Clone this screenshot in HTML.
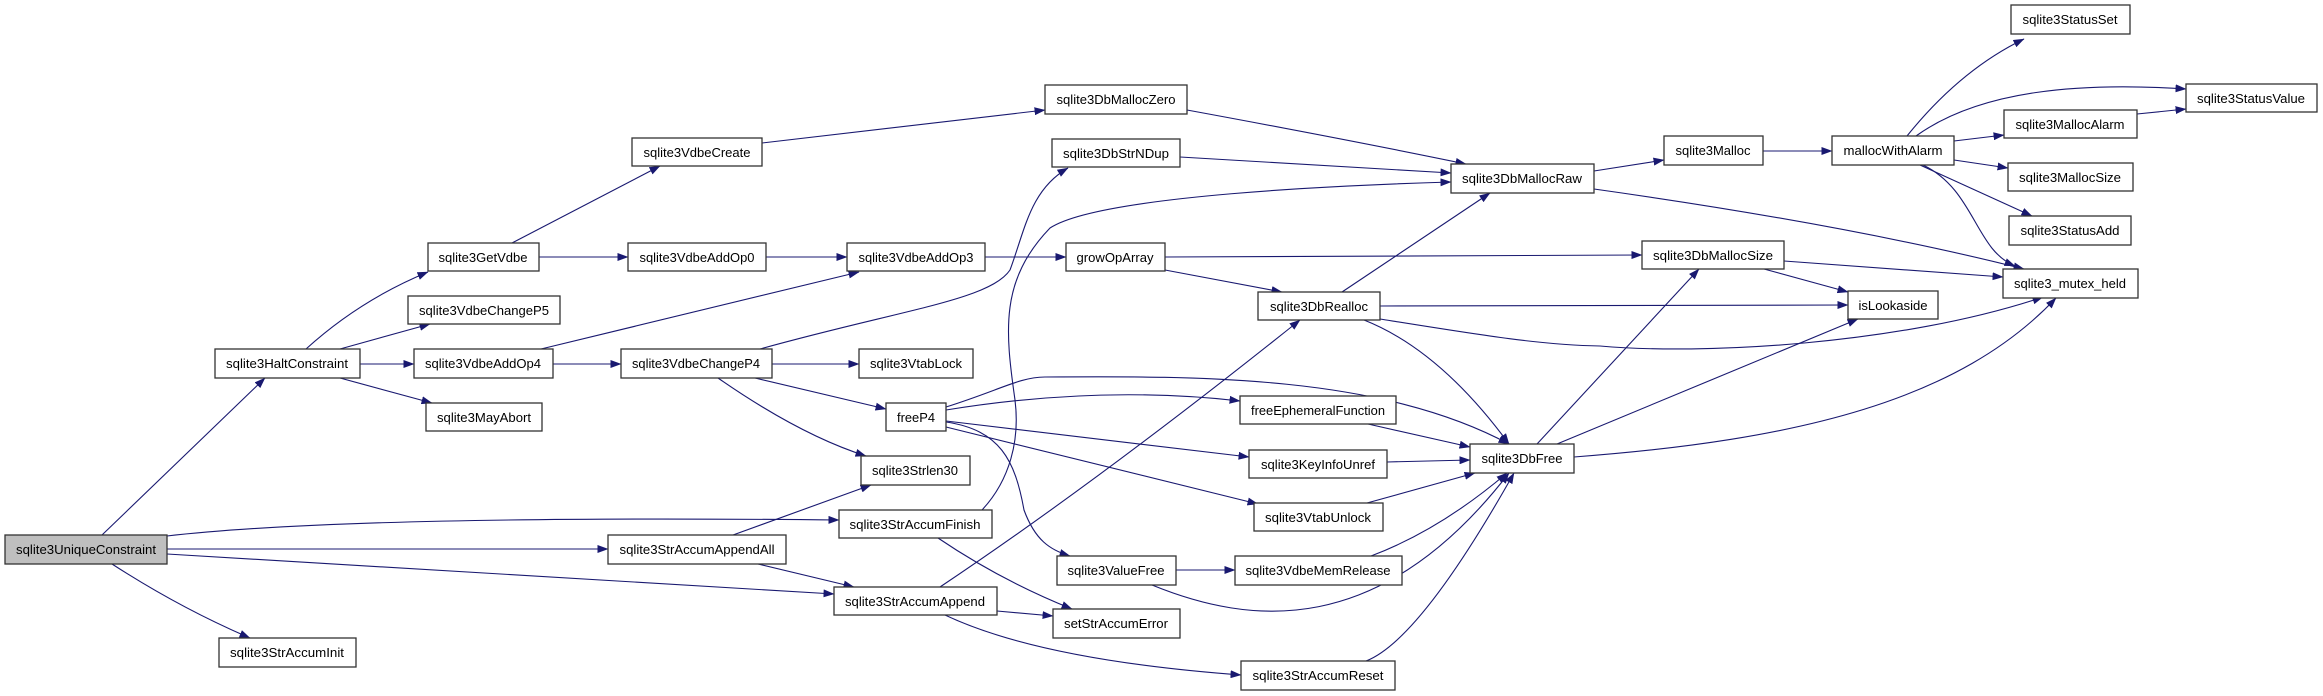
<!DOCTYPE html>
<html><head><meta charset="utf-8"><style>html,body{margin:0;padding:0;background:#fff}svg{display:block}</style></head>
<body>
<svg width="2323" height="696" viewBox="0 0 2323 696" xmlns="http://www.w3.org/2000/svg" font-family="Liberation Sans, sans-serif" font-size="13">
<defs><marker id="a" markerWidth="11" markerHeight="8" refX="10.5" refY="4" orient="auto" markerUnits="userSpaceOnUse"><path d="M0,0 L11,4 L0,8 z" fill="#191970"/></marker></defs>
<g fill="none" stroke="#191970" stroke-width="1.1" marker-end="url(#a)">
<path d="M102,535 L265,378"/>
<path d="M112,564 Q180,608 250,638"/>
<path d="M167,536 Q350,515 839,520"/>
<path d="M167,549 L608,549"/>
<path d="M167,554 L834,594"/>
<path d="M306,349 Q360,300 428,272"/>
<path d="M340,349 L430,324"/>
<path d="M360,364 L414,364"/>
<path d="M340,378 L432,403"/>
<path d="M512,243 L660,166"/>
<path d="M539,257 L628,257"/>
<path d="M541,349 L859,272"/>
<path d="M553,364 L621,364"/>
<path d="M762,143 L1045,110"/>
<path d="M766,257 L847,257"/>
<path d="M760,349 C900,310 990,300 1010,270 C1025,230 1030,190 1068,168"/>
<path d="M772,364 L859,364"/>
<path d="M755,378 L886,409"/>
<path d="M718,378 Q800,435 866,456"/>
<path d="M733,535 L871,485"/>
<path d="M758,564 L854,587"/>
<path d="M982,510 C1010,480 1020,440 1015,400 C1005,330 1000,280 1050,228 C1100,195 1350,185 1451,182"/>
<path d="M938,538 Q1000,580 1072,609"/>
<path d="M940,587 Q1100,480 1300,320"/>
<path d="M997,611 L1053,616"/>
<path d="M945,615 Q1040,660 1241,675"/>
<path d="M1187,110 Q1350,140 1466,164"/>
<path d="M1180,157 L1451,173"/>
<path d="M985,257 L1066,257"/>
<path d="M1165,257 L1642,255"/>
<path d="M1165,270 L1282,292"/>
<path d="M1342,292 L1490,193"/>
<path d="M1380,306 L1848,305"/>
<path d="M1380,319 C1480,335 1540,345 1600,346 C1700,355 1900,345 2043,297"/>
<path d="M1364,320 Q1440,350 1509,444"/>
<path d="M946,407 C1000,390 1020,377 1045,377 C1200,376 1380,375 1509,444"/>
<path d="M946,410 Q1100,385 1240,401"/>
<path d="M946,421 L1249,457"/>
<path d="M946,427 L1258,504"/>
<path d="M946,422 C1000,430 1015,460 1024,510 C1035,540 1050,550 1070,556"/>
<path d="M1368,424 L1470,447"/>
<path d="M1387,462 L1470,460"/>
<path d="M1367,503 L1475,473"/>
<path d="M1176,570 L1235,570"/>
<path d="M1152,585 C1250,625 1380,640 1509,473"/>
<path d="M1371,556 Q1440,530 1507,473"/>
<path d="M1366,661 Q1420,640 1514,473"/>
<path d="M1537,444 L1699,269"/>
<path d="M1557,444 L1858,319"/>
<path d="M1574,457 C1800,440 1960,400 2056,298"/>
<path d="M1594,171 L1664,160"/>
<path d="M1594,189 Q1850,225 2024,269"/>
<path d="M1764,269 L1848,292"/>
<path d="M1784,261 L2003,277"/>
<path d="M1763,151 L1832,151"/>
<path d="M1907,136 Q1960,70 2024,39"/>
<path d="M1916,136 C1980,90 2080,82 2186,89"/>
<path d="M1954,141 L2004,135"/>
<path d="M1954,160 L2008,168"/>
<path d="M1920,165 L2032,216"/>
<path d="M1923,165 C1975,190 1975,250 2015,266"/>
<path d="M2137,114 L2186,109"/>
</g>
<g stroke="#333" stroke-width="1.3" fill="#fff">
<rect x="5" y="535" width="162" height="29" fill="#bfbfbf"/>
<rect x="215" y="349" width="145" height="29"/>
<rect x="219" y="638" width="137" height="29"/>
<rect x="428" y="243" width="111" height="28"/>
<rect x="408" y="296" width="152" height="28"/>
<rect x="414" y="349" width="139" height="29"/>
<rect x="426" y="403" width="116" height="28"/>
<rect x="632" y="138" width="130" height="28"/>
<rect x="628" y="243" width="138" height="28"/>
<rect x="621" y="349" width="151" height="29"/>
<rect x="608" y="535" width="178" height="29"/>
<rect x="1045" y="85" width="142" height="29"/>
<rect x="1052" y="139" width="128" height="28"/>
<rect x="1451" y="164" width="143" height="29"/>
<rect x="847" y="243" width="138" height="28"/>
<rect x="1066" y="243" width="99" height="28"/>
<rect x="1258" y="292" width="122" height="28"/>
<rect x="859" y="349" width="114" height="29"/>
<rect x="886" y="403" width="60" height="28"/>
<rect x="1240" y="396" width="156" height="28"/>
<rect x="861" y="456" width="109" height="29"/>
<rect x="1249" y="450" width="138" height="28"/>
<rect x="1470" y="444" width="104" height="29"/>
<rect x="1254" y="503" width="129" height="28"/>
<rect x="839" y="510" width="153" height="28"/>
<rect x="1057" y="556" width="119" height="29"/>
<rect x="1235" y="556" width="167" height="29"/>
<rect x="834" y="587" width="163" height="28"/>
<rect x="1053" y="609" width="127" height="29"/>
<rect x="1241" y="661" width="154" height="29"/>
<rect x="2011" y="5" width="119" height="29"/>
<rect x="2186" y="84" width="131" height="28"/>
<rect x="2004" y="110" width="133" height="28"/>
<rect x="1664" y="136" width="99" height="29"/>
<rect x="1832" y="136" width="122" height="29"/>
<rect x="2008" y="163" width="125" height="28"/>
<rect x="2009" y="216" width="122" height="29"/>
<rect x="1642" y="241" width="142" height="28"/>
<rect x="2003" y="269" width="135" height="29"/>
<rect x="1848" y="291" width="90" height="28"/>
</g>
<g fill="#000" text-anchor="middle" lengthAdjust="spacingAndGlyphs">
<text x="86" y="554" textLength="140" lengthAdjust="spacingAndGlyphs">sqlite3UniqueConstraint</text>
<text x="287" y="368" textLength="122" lengthAdjust="spacingAndGlyphs">sqlite3HaltConstraint</text>
<text x="287" y="657" textLength="114" lengthAdjust="spacingAndGlyphs">sqlite3StrAccumInit</text>
<text x="483" y="262" textLength="89" lengthAdjust="spacingAndGlyphs">sqlite3GetVdbe</text>
<text x="484" y="315" textLength="130" lengthAdjust="spacingAndGlyphs">sqlite3VdbeChangeP5</text>
<text x="483" y="368" textLength="116" lengthAdjust="spacingAndGlyphs">sqlite3VdbeAddOp4</text>
<text x="484" y="422" textLength="94" lengthAdjust="spacingAndGlyphs">sqlite3MayAbort</text>
<text x="697" y="157" textLength="107" lengthAdjust="spacingAndGlyphs">sqlite3VdbeCreate</text>
<text x="697" y="262" textLength="115" lengthAdjust="spacingAndGlyphs">sqlite3VdbeAddOp0</text>
<text x="696" y="368" textLength="128" lengthAdjust="spacingAndGlyphs">sqlite3VdbeChangeP4</text>
<text x="697" y="554" textLength="155" lengthAdjust="spacingAndGlyphs">sqlite3StrAccumAppendAll</text>
<text x="1116" y="104" textLength="119" lengthAdjust="spacingAndGlyphs">sqlite3DbMallocZero</text>
<text x="1116" y="158" textLength="106" lengthAdjust="spacingAndGlyphs">sqlite3DbStrNDup</text>
<text x="1522" y="183" textLength="120" lengthAdjust="spacingAndGlyphs">sqlite3DbMallocRaw</text>
<text x="916" y="262" textLength="115" lengthAdjust="spacingAndGlyphs">sqlite3VdbeAddOp3</text>
<text x="1115" y="262" textLength="77" lengthAdjust="spacingAndGlyphs">growOpArray</text>
<text x="1319" y="311" textLength="98" lengthAdjust="spacingAndGlyphs">sqlite3DbRealloc</text>
<text x="916" y="368" textLength="92" lengthAdjust="spacingAndGlyphs">sqlite3VtabLock</text>
<text x="916" y="422" textLength="38" lengthAdjust="spacingAndGlyphs">freeP4</text>
<text x="1318" y="415" textLength="134" lengthAdjust="spacingAndGlyphs">freeEphemeralFunction</text>
<text x="915" y="475" textLength="86" lengthAdjust="spacingAndGlyphs">sqlite3Strlen30</text>
<text x="1318" y="469" textLength="114" lengthAdjust="spacingAndGlyphs">sqlite3KeyInfoUnref</text>
<text x="1522" y="463" textLength="81" lengthAdjust="spacingAndGlyphs">sqlite3DbFree</text>
<text x="1318" y="522" textLength="106" lengthAdjust="spacingAndGlyphs">sqlite3VtabUnlock</text>
<text x="915" y="529" textLength="131" lengthAdjust="spacingAndGlyphs">sqlite3StrAccumFinish</text>
<text x="1116" y="575" textLength="97" lengthAdjust="spacingAndGlyphs">sqlite3ValueFree</text>
<text x="1318" y="575" textLength="145" lengthAdjust="spacingAndGlyphs">sqlite3VdbeMemRelease</text>
<text x="915" y="606" textLength="140" lengthAdjust="spacingAndGlyphs">sqlite3StrAccumAppend</text>
<text x="1116" y="628" textLength="104" lengthAdjust="spacingAndGlyphs">setStrAccumError</text>
<text x="1318" y="680" textLength="131" lengthAdjust="spacingAndGlyphs">sqlite3StrAccumReset</text>
<text x="2070" y="24" textLength="95" lengthAdjust="spacingAndGlyphs">sqlite3StatusSet</text>
<text x="2251" y="103" textLength="108" lengthAdjust="spacingAndGlyphs">sqlite3StatusValue</text>
<text x="2070" y="129" textLength="109" lengthAdjust="spacingAndGlyphs">sqlite3MallocAlarm</text>
<text x="1713" y="155" textLength="75" lengthAdjust="spacingAndGlyphs">sqlite3Malloc</text>
<text x="1893" y="155" textLength="99" lengthAdjust="spacingAndGlyphs">mallocWithAlarm</text>
<text x="2070" y="182" textLength="102" lengthAdjust="spacingAndGlyphs">sqlite3MallocSize</text>
<text x="2070" y="235" textLength="99" lengthAdjust="spacingAndGlyphs">sqlite3StatusAdd</text>
<text x="1713" y="260" textLength="120" lengthAdjust="spacingAndGlyphs">sqlite3DbMallocSize</text>
<text x="2070" y="288" textLength="112" lengthAdjust="spacingAndGlyphs">sqlite3_mutex_held</text>
<text x="1893" y="310" textLength="69" lengthAdjust="spacingAndGlyphs">isLookaside</text>
</g>
</svg>
</body></html>
